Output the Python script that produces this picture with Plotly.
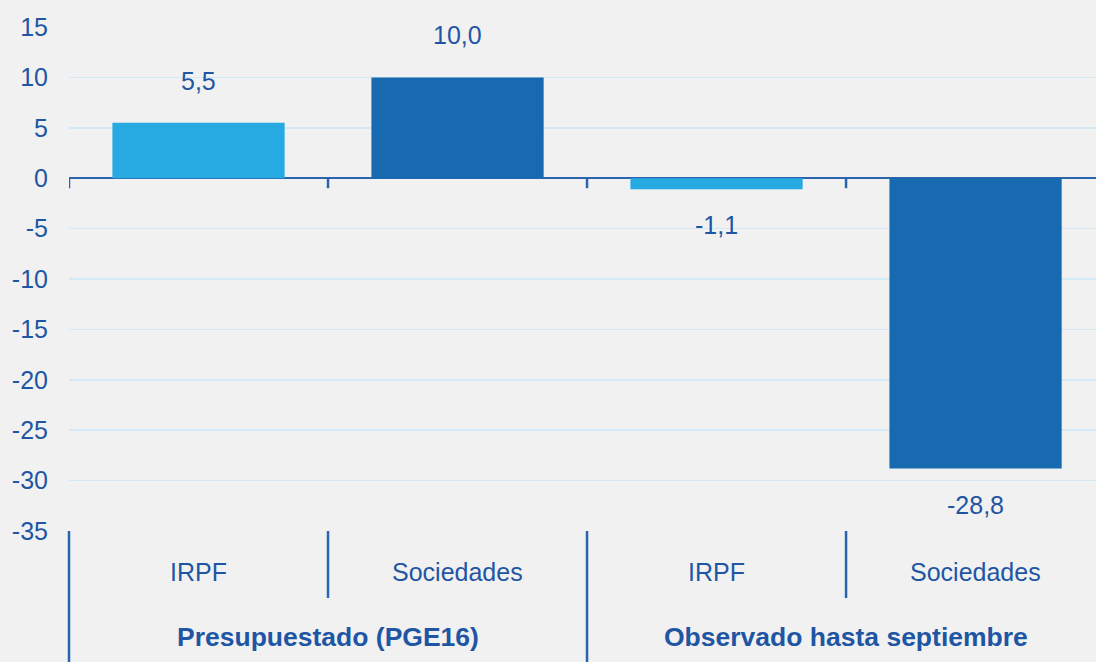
import plotly.graph_objects as go

groups = ["Presupuestado (PGE16)", "Presupuestado (PGE16)", "Observado hasta septiembre", "Observado hasta septiembre"]
items = ["IRPF", "Sociedades", "IRPF", "Sociedades"]
values = [5.5, 10.0, -1.1, -28.8]
bar_colors = ["#27aae1", "#1769b0", "#27aae1", "#1769b0"]
y_ticks = [15, 10, 5, 0, -5, -10, -15, -20, -25, -30, -35]

TEXT = "#1f56a4"
LINE = "#2a64ad"
GRID = "#d3e9f6"
BG = "#f1f1f1"
FONT = "Liberation Sans, Arial, sans-serif"

x_idx = list(range(len(values)))
x_range = [-0.5, len(values) - 0.535]


def dom(v):
    return (v - x_range[0]) / (x_range[1] - x_range[0])


fig = go.Figure()
fig.add_trace(go.Bar(x=x_idx, y=values, marker=dict(color=bar_colors, line=dict(width=0)),
                     hoverinfo="skip"))

annotations = []
for i, v in zip(x_idx, values):
    annotations.append(dict(x=i, y=v, xref="x", yref="y", text=f"{v:.1f}".replace(".", ","),
                            showarrow=False, yanchor="middle",
                            yshift=42 if v >= 0 else -36,
                            font=dict(size=25, color=TEXT, family=FONT)))
for i, it in zip(x_idx, items):
    annotations.append(dict(x=i, y=-0.082, xref="x", yref="paper", text=it, showarrow=False,
                            yanchor="middle", font=dict(size=25, color=TEXT, family=FONT)))

# group labels
seen = []
for g in groups:
    if g not in seen:
        seen.append(g)
for g in seen:
    idx = [i for i, gg in zip(x_idx, groups) if gg == g]
    cx = (idx[0] + idx[-1]) / 2
    annotations.append(dict(x=cx, y=-0.21, xref="x", yref="paper", text=f"<b>{g}</b>",
                            showarrow=False, yanchor="middle",
                            font=dict(size=26.5, color=TEXT, family=FONT)))

shapes = []
for i in x_idx:
    b = i - 0.5
    is_group_start = (i == 0) or (groups[i] != groups[i - 1])
    shapes.append(dict(type="line", xref="x domain", yref="paper", x0=dom(b), x1=dom(b),
                       y0=0, y1=-0.27 if is_group_start else -0.133,
                       line=dict(color=LINE, width=2.5)))
    shapes.append(dict(type="line", xref="x", yref="y", x0=b, x1=b,
                       ysizemode="pixel", yanchor=0, y0=0, y1=-10,
                       line=dict(color=LINE, width=2.5)))

fig.update_layout(
    width=1096, height=662,
    margin=dict(l=69, r=0, t=27, b=131),
    paper_bgcolor=BG, plot_bgcolor=BG,
    bargap=0.335,
    showlegend=False,
    font=dict(family=FONT, color=TEXT, size=25),
    xaxis=dict(range=x_range, showticklabels=False, showgrid=False, zeroline=False,
               showline=False, ticks=""),
    yaxis=dict(range=[-35, 15], tickvals=y_ticks, ticktext=[str(t) for t in y_ticks],
               showgrid=True, gridcolor=GRID, gridwidth=1.5,
               zeroline=True, zerolinecolor=LINE, zerolinewidth=2.5,
               showline=False, ticks="", ticklabelstandoff=20,
               tickfont=dict(size=25, color=TEXT, family=FONT)),
    annotations=annotations,
    shapes=shapes,
)

fig.write_html("out.html", config={"displayModeBar": False, "staticPlot": True},
               post_script="document.body.style.margin='0';document.body.style.overflow='hidden';"
                           "document.body.style.background='" + BG + "';")
